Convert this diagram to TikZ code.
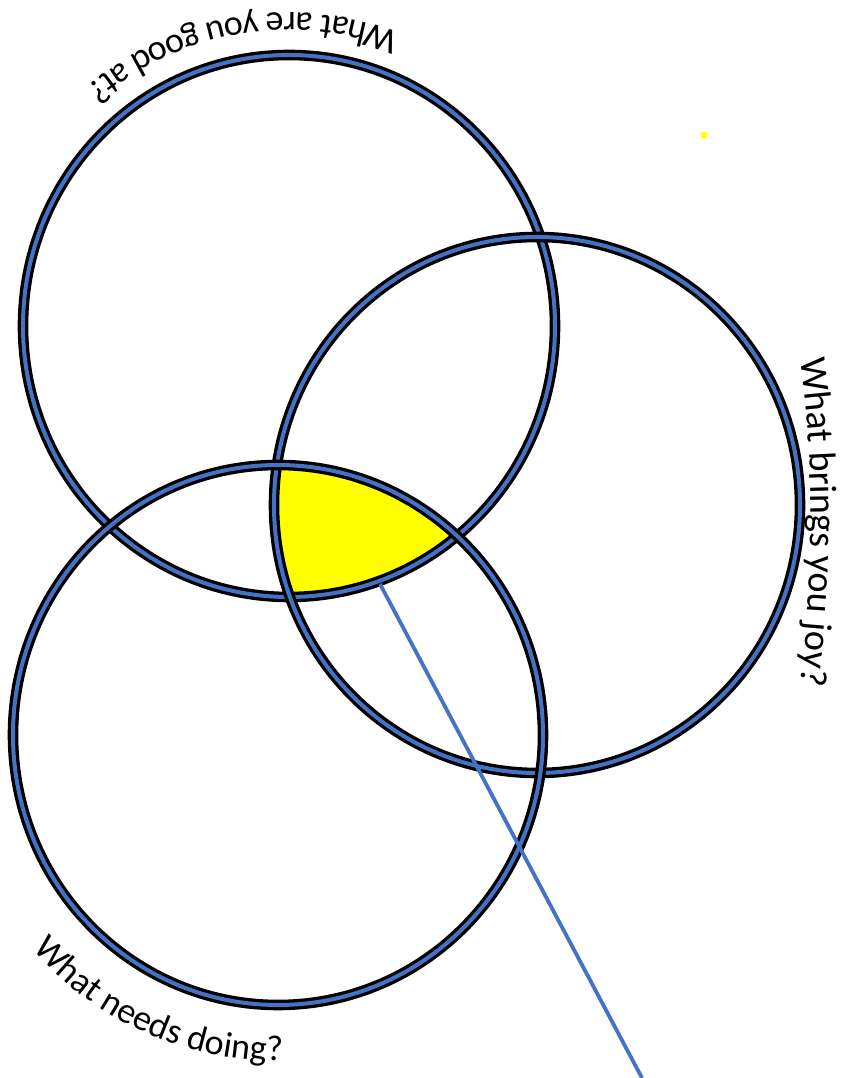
\documentclass[tikz,border=0pt]{standalone}
\usepackage{fontspec}
\usepackage{xcolor}
\usepackage{tikz}
\usetikzlibrary{decorations.text,calc}
\newfontfamily\vennfont{Carlito}
\definecolor{ringblue}{RGB}{68,114,196}
\definecolor{spotyellow}{RGB}{255,255,0}

\begin{document}
\begin{tikzpicture}[x=1pt,y=1pt,
    ring/.style={draw=black,line width=3.3pt,double=ringblue,double distance=4pt},
    arclabel/.style={decorate,decoration={text along path,text align=center,text={#1}}}]
  \useasboundingbox (0,0) rectangle (846,1078);
  \coordinate (good) at (289,752);
  \coordinate (joy) at (537,573);
  \coordinate (need) at (278,343);
  % the part that all three share
  \begin{scope}
    \clip (good) ellipse [x radius=266pt,y radius=271pt];
    \clip (joy) ellipse [x radius=263pt,y radius=268pt];
    \fill[spotyellow] (need) ellipse [x radius=265pt,y radius=270pt];
  \end{scope}
  \draw[ring] (good) ellipse [x radius=266pt,y radius=271pt];
  \draw[ring] (joy) ellipse [x radius=263pt,y radius=268pt];
  \draw[ring] (need) ellipse [x radius=265pt,y radius=270pt];
  \fill[spotyellow] (704,943) circle (3.5pt);
  \coordinate (spot) at (380,494);
  \coordinate (tail) at (642,0);
  \draw[ringblue,line width=3.8pt] (spot) -- (tail);
  % labels round the rings
  \path[arclabel={|\vennfont\fontsize{36}{42}\selectfont|What are you good at?}]
    ($(good)+(64:313pt)$) arc [start angle=64,end angle=136,radius=313pt];
  \coordinate (joyarc) at (-389,556);
  \path[arclabel={|\vennfont\fontsize{38}{44}\selectfont|What brings you joy?}]
    ($(joyarc)+(12:1200pt)$) arc [start angle=12,end angle=-12,radius=1200pt];
  \path[arclabel={|\vennfont\fontsize{36}{42}\selectfont|What needs doing?}]
    ($(need)+(213:326pt)$) arc [start angle=213,end angle=279,radius=326pt];
\end{tikzpicture}
\end{document}
